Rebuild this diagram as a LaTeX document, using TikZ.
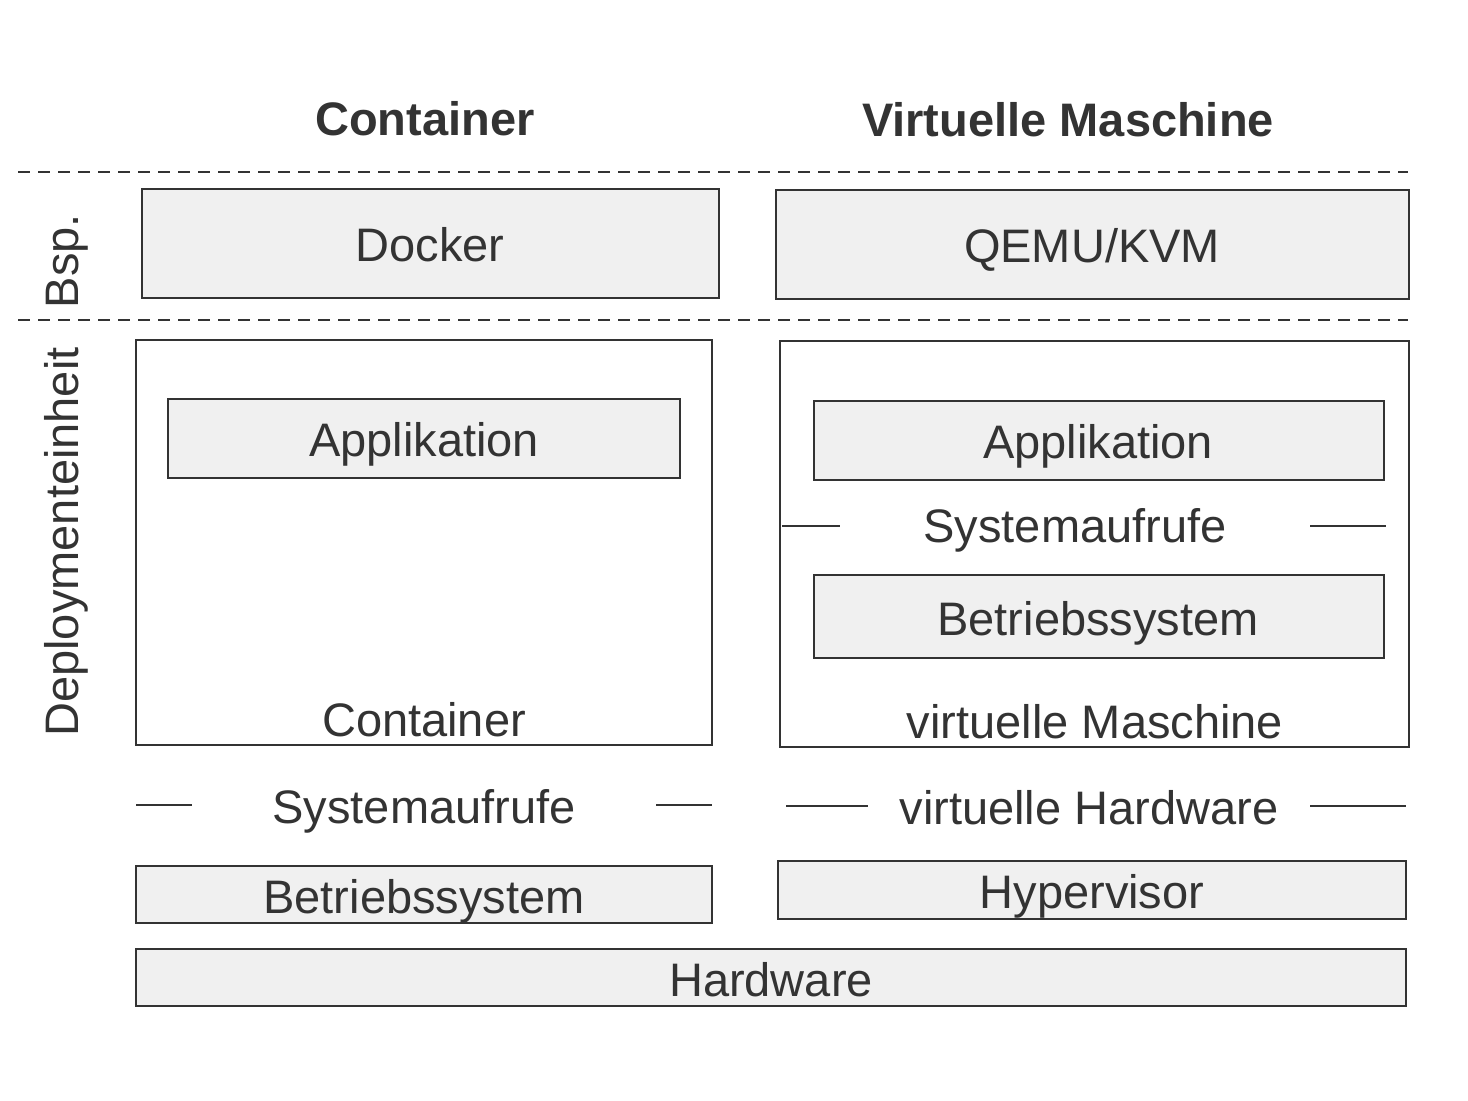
\documentclass[tikz,border=0pt]{standalone}
\usepackage{fontspec}
\setmainfont{Liberation Sans}
\definecolor{ink}{HTML}{333333}
\definecolor{boxfill}{HTML}{F0F0F0}
\begin{document}
\begin{tikzpicture}[x=0.5pt,y=-0.5pt,
  box/.style={draw=ink,line width=1.2pt,fill=boxfill},
  frame/.style={draw=ink,line width=1.2pt},
  lbl/.style={anchor=base,text=ink,font=\fontsize{23.5}{28}\selectfont,inner sep=0pt},
  ttl/.style={anchor=base,text=ink,font=\fontsize{23.5}{28}\selectfont\bfseries,inner sep=0pt},
  sep/.style={draw=ink,line width=0.9pt,dash pattern=on 6pt off 4pt},
  tick/.style={draw=ink,line width=1pt}]
\useasboundingbox[fill=white] (0,0) rectangle (1468,1101);
% titles
\node[ttl] (t1) at (425,136) {Container};
\node[ttl] (t2) at (1068,137) {Virtuelle Maschine};
% dashed separators
\coordinate (s1a) at (18,172); \coordinate (s1b) at (1408,172);
\coordinate (s2a) at (18,320); \coordinate (s2b) at (1408,320);
\draw[sep] (s1a) -- (s1b);
\draw[sep] (s2a) -- (s2b);
% side labels
\node[lbl,rotate=90] (bsp) at (78,261) {Bsp.};
\node[lbl,rotate=90] (dep) at (78,542) {Deploymenteinheit};
% examples
\draw[box] (142,189) rectangle (719,298);
\node[lbl] (docker) at (430,262) {Docker};
\draw[box] (776,190) rectangle (1409,299);
\node[lbl] (qemu) at (1092,263) {QEMU/KVM};
% container unit
\draw[frame] (136,340) rectangle (712,745);
\draw[box] (168,399) rectangle (680,478);
\node[lbl] (app1) at (424,457) {Applikation};
\node[lbl] (cont) at (424,736) {Container};
% vm unit
\draw[frame] (780,341) rectangle (1409,747);
\draw[box] (814,401) rectangle (1384,480);
\node[lbl] (app2) at (1098,459) {Applikation};
\node[lbl] (sys2) at (1075,543) {Systemaufrufe};
\coordinate (a1) at (782,526); \coordinate (a2) at (840,526);
\coordinate (a3) at (1310,526); \coordinate (a4) at (1386,526);
\draw[tick] (a1) -- (a2);
\draw[tick] (a3) -- (a4);
\draw[box] (814,575) rectangle (1384,658);
\node[lbl] (os2) at (1098,635) {Betriebssystem};
\node[lbl] (vm) at (1095,738) {virtuelle Maschine};
% interfaces
\node[lbl] (sys1) at (424,823) {Systemaufrufe};
\coordinate (b1) at (136,805); \coordinate (b2) at (192,805);
\coordinate (b3) at (656,805); \coordinate (b4) at (712,805);
\draw[tick] (b1) -- (b2);
\draw[tick] (b3) -- (b4);
\node[lbl] (vhw) at (1089,824) {virtuelle Hardware};
\coordinate (c1) at (786,806); \coordinate (c2) at (868,806);
\coordinate (c3) at (1310,806); \coordinate (c4) at (1406,806);
\draw[tick] (c1) -- (c2);
\draw[tick] (c3) -- (c4);
% bottom layers
\draw[box] (136,866) rectangle (712,923);
\node[lbl] (os1) at (424,913) {Betriebssystem};
\draw[box] (778,861) rectangle (1406,919);
\node[lbl] (hyp) at (1092,908) {Hypervisor};
\draw[box] (136,949) rectangle (1406,1006);
\node[lbl] (hw) at (771,996) {Hardware};
\end{tikzpicture}
\end{document}
